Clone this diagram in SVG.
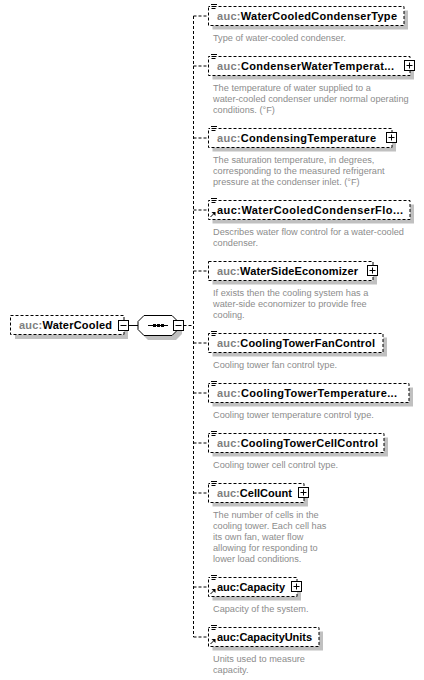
<svg xmlns="http://www.w3.org/2000/svg" width="424" height="680" viewBox="0 0 424 680">
<defs>
<style>
.bx{fill:#fff;stroke:#000;stroke-width:1;stroke-dasharray:3,2}
.sh{fill:#c0c0c0}
.cn{stroke:#000;stroke-width:1;stroke-dasharray:3,2;fill:none}
.ln{stroke:#000;stroke-width:1;fill:none}
.nm{font-family:"Liberation Sans",Arial,sans-serif;font-weight:bold;font-size:11px;fill:#000}
.ns{fill:#808080}
.ds{font-family:"Liberation Sans",Arial,sans-serif;font-size:9.2px;fill:#8c8c8c}
.pm{fill:#fff;stroke:#000;stroke-width:1}
.ic{stroke:#000;stroke-width:1}
</style>
<g id="doc">
<rect x="-1" y="-2" width="7" height="6" fill="#fff"/>
<path class="ic" d="M0,-1.5H6M0.5,0.5H5.5M0.5,2.5H4.5"/>
</g>
<g id="ref">
<path class="ic" d="M0.5,5L3.5,2"/>
<path d="M1.5,0H5.5V4Z" fill="#000"/>
</g>
<g id="plus">
<rect class="pm" x="0" y="0" width="10" height="10"/>
<path class="ic" d="M2,5H8M5,2V8"/>
</g>
<g id="minus">
<rect class="pm" x="0" y="0" width="10" height="10"/>
<path class="ic" d="M2,5H8"/>
</g>
</defs>

<g id="connectors">
<path class="ln" d="M128.5,325.5H138"/>
<path class="cn" d="M183.5,325.5H193.5"/>
<path class="cn" d="M193.5,16V637"/>
<path class="cn" d="M193.5,16H208.5M193.5,66H208.5M193.5,138H208.5M193.5,210H208.5M193.5,271H208.5M193.5,343H208.5M193.5,393H208.5M193.5,443H208.5M193.5,493H208.5M193.5,587H208.5M193.5,637H208.5"/>
</g>

<g id="root">
<rect class="sh" x="15" y="320" width="113" height="19"/>
<rect class="bx" x="10.5" y="315.5" width="113.5" height="19"/>
<text class="nm" x="19" y="329" textLength="93"><tspan class="ns">auc:</tspan>WaterCooled</text>
<use href="#minus" x="118.5" y="320.5"/>
</g>

<g id="sequence">
<polygon class="sh" points="148,320 176,320 182,326 182,334 176,340 148,340 142,334 142,326"/>
<polygon fill="#fff" stroke="#000" points="144,315.5 172,315.5 178,321.5 178,329.5 172,335.5 144,335.5 138,329.5 138,321.5"/>
<path class="ln" d="M148,325.5H168"/>
<rect x="153" y="324" width="3" height="3" fill="#000"/>
<rect x="157" y="324" width="3" height="3" fill="#000"/>
<rect x="161" y="324" width="3" height="3" fill="#000"/>
<use href="#minus" x="173.5" y="320.5"/>
</g>

<g id="n1">
<rect class="sh" x="212.5" y="10.5" width="195.5" height="19"/>
<rect class="bx" x="208.5" y="6.5" width="195.5" height="19"/>
<use href="#doc" x="211" y="6"/>
<text class="nm" x="217" y="20" textLength="180"><tspan class="ns">auc:</tspan>WaterCooledCondenserType</text>
<text class="ds" x="213" y="41">Type of water-cooled condenser.</text>
</g>

<g id="n2">
<rect class="sh" x="212.5" y="60.5" width="201.5" height="19"/>
<rect class="bx" x="208.5" y="56.5" width="201.5" height="19"/>
<use href="#doc" x="211" y="56"/>
<text class="nm" x="217" y="70" textLength="177"><tspan class="ns">auc:</tspan>CondenserWaterTemperat...</text>
<use href="#plus" x="404.5" y="60.5"/>
<text class="ds" x="213" y="91">The temperature of water supplied to a</text>
<text class="ds" x="213" y="102">water-cooled condenser under normal operating</text>
<text class="ds" x="213" y="113">conditions. (°F)</text>
</g>

<g id="n3">
<rect class="sh" x="212.5" y="132.5" width="183.5" height="19"/>
<rect class="bx" x="208.5" y="128.5" width="183.5" height="19"/>
<use href="#doc" x="211" y="128"/>
<text class="nm" x="217" y="142" textLength="159"><tspan class="ns">auc:</tspan>CondensingTemperature</text>
<use href="#plus" x="386.5" y="132.5"/>
<text class="ds" x="213" y="163">The saturation temperature, in degrees,</text>
<text class="ds" x="213" y="174">corresponding to the measured refrigerant</text>
<text class="ds" x="213" y="185">pressure at the condenser inlet. (°F)</text>
</g>

<g id="n4">
<rect class="sh" x="212.5" y="204.5" width="201.5" height="19"/>
<rect class="bx" x="208.5" y="200.5" width="201.5" height="19"/>
<use href="#doc" x="211" y="200"/>
<use href="#ref" x="210" y="212"/>
<text class="nm" x="217" y="214" textLength="186">auc:WaterCooledCondenserFlo...</text>
<text class="ds" x="213" y="235">Describes water flow control for a water-cooled</text>
<text class="ds" x="213" y="246">condenser.</text>
</g>

<g id="n5">
<rect class="sh" x="212.5" y="265.5" width="164.5" height="19"/>
<rect class="bx" x="208.5" y="261.5" width="164.5" height="19"/>
<text class="nm" x="217" y="275" textLength="141"><tspan class="ns">auc:</tspan>WaterSideEconomizer</text>
<use href="#plus" x="367.5" y="265.5"/>
<text class="ds" x="213" y="296">If exists then the cooling system has a</text>
<text class="ds" x="213" y="307">water-side economizer to provide free</text>
<text class="ds" x="213" y="318">cooling.</text>
</g>

<g id="n6">
<rect class="sh" x="212.5" y="337.5" width="174.5" height="19"/>
<rect class="bx" x="208.5" y="333.5" width="174.5" height="19"/>
<use href="#doc" x="211" y="333"/>
<text class="nm" x="217" y="347" textLength="158"><tspan class="ns">auc:</tspan>CoolingTowerFanControl</text>
<text class="ds" x="213" y="368">Cooling tower fan control type.</text>
</g>

<g id="n7">
<rect class="sh" x="212.5" y="387.5" width="200.5" height="19"/>
<rect class="bx" x="208.5" y="383.5" width="200.5" height="19"/>
<use href="#doc" x="211" y="383"/>
<text class="nm" x="217" y="397" textLength="180"><tspan class="ns">auc:</tspan>CoolingTowerTemperature...</text>
<text class="ds" x="213" y="418">Cooling tower temperature control type.</text>
</g>

<g id="n8">
<rect class="sh" x="212.5" y="437.5" width="175.5" height="19"/>
<rect class="bx" x="208.5" y="433.5" width="175.5" height="19"/>
<use href="#doc" x="211" y="433"/>
<text class="nm" x="217" y="447" textLength="161"><tspan class="ns">auc:</tspan>CoolingTowerCellControl</text>
<text class="ds" x="213" y="468">Cooling tower cell control type.</text>
</g>

<g id="n9">
<rect class="sh" x="212.5" y="487.5" width="95.5" height="19"/>
<rect class="bx" x="208.5" y="483.5" width="95.5" height="19"/>
<use href="#doc" x="211" y="483"/>
<text class="nm" x="217" y="497" textLength="75"><tspan class="ns">auc:</tspan>CellCount</text>
<use href="#plus" x="298.5" y="487.5"/>
<text class="ds" x="213" y="518">The number of cells in the</text>
<text class="ds" x="213" y="529">cooling tower. Each cell has</text>
<text class="ds" x="213" y="540">its own fan, water flow</text>
<text class="ds" x="213" y="551">allowing for responding to</text>
<text class="ds" x="213" y="562">lower load conditions.</text>
</g>

<g id="n10">
<rect class="sh" x="212.5" y="581.5" width="88.5" height="19"/>
<rect class="bx" x="208.5" y="577.5" width="88.5" height="19"/>
<use href="#doc" x="211" y="577"/>
<use href="#ref" x="210" y="589"/>
<text class="nm" x="217" y="591" textLength="68">auc:Capacity</text>
<use href="#plus" x="291.5" y="581.5"/>
<text class="ds" x="213" y="612">Capacity of the system.</text>
</g>

<g id="n11">
<rect class="sh" x="212.5" y="631.5" width="110.5" height="19"/>
<rect class="bx" x="208.5" y="627.5" width="110.5" height="19"/>
<use href="#doc" x="211" y="627"/>
<use href="#ref" x="210" y="639"/>
<text class="nm" x="217" y="641" textLength="95">auc:CapacityUnits</text>
<text class="ds" x="213" y="662">Units used to measure</text>
<text class="ds" x="213" y="673">capacity.</text>
</g>
</svg>
